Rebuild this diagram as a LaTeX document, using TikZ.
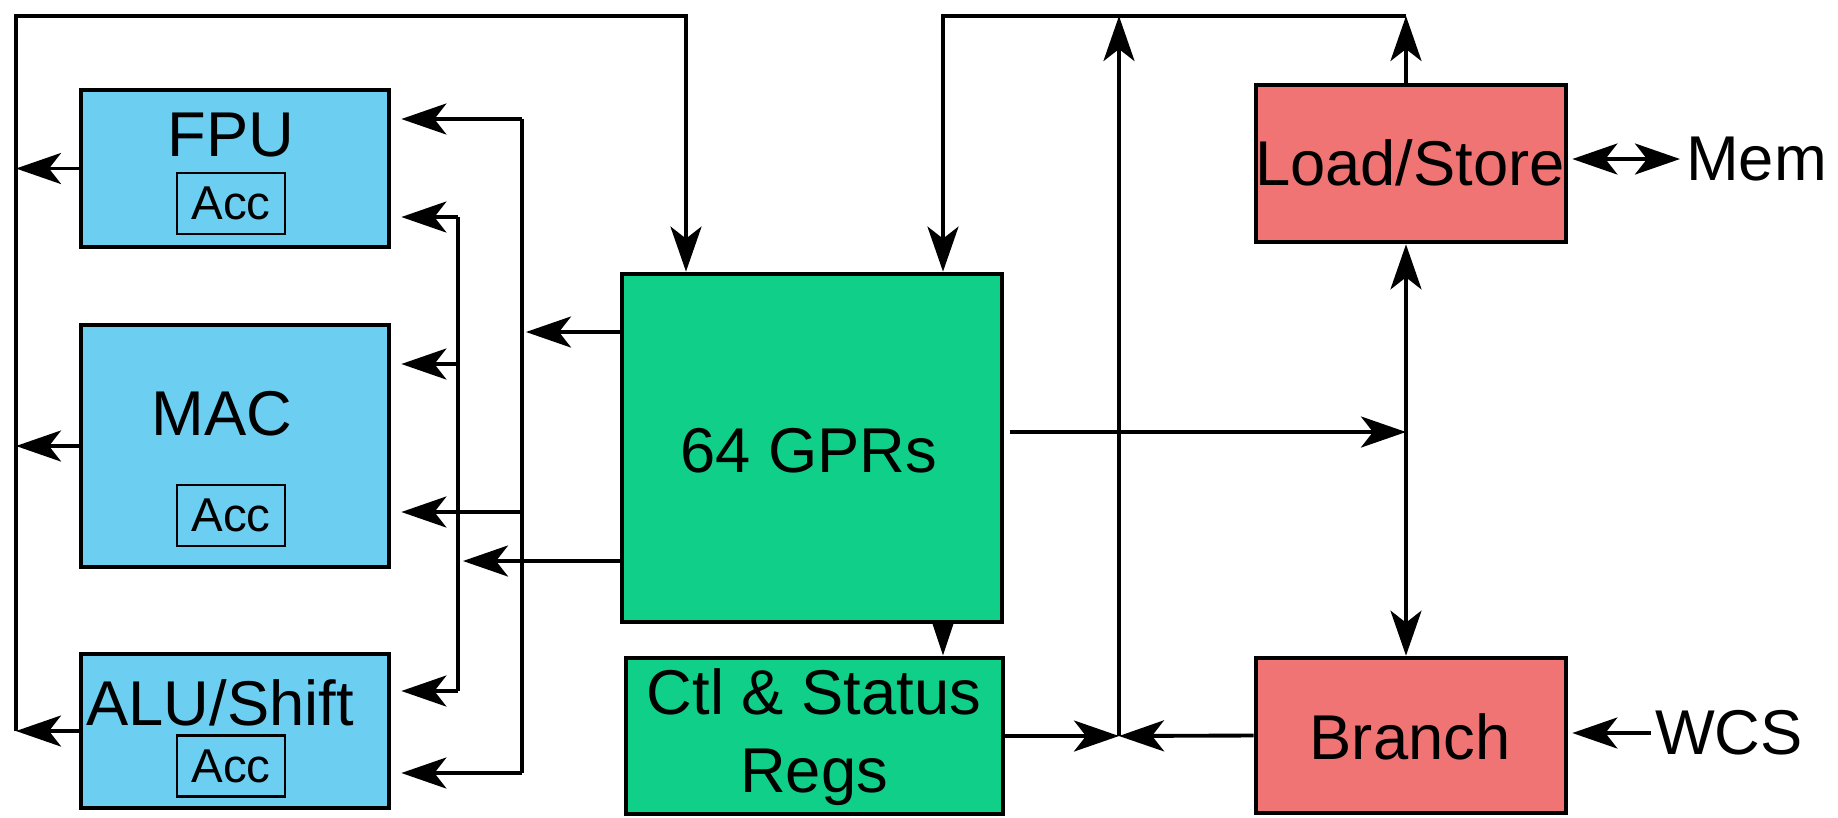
\documentclass[tikz,border=0pt]{standalone}
\usepackage{fontspec}
\setmainfont{Liberation Sans}
\usetikzlibrary{arrows.meta,calc}
\definecolor{unitblue}{RGB}{108,207,241}
\definecolor{reggreen}{RGB}{16,207,137}
\definecolor{lsred}{RGB}{239,116,115}
\tikzset{
  arr/.tip={Stealth[length=4.5mm,width=3.1mm,inset=1.2mm]},
  box/.style={draw=black, line width=1.3pt, inner sep=0pt},
  unit/.style={box, fill=unitblue, minimum width=3.08cm},
  lbl/.style={inner sep=1pt, font=\fontsize{18}{22.4}\selectfont, align=center},
  acc/.style={draw=black, line width=0.6pt, minimum width=1.08cm, minimum height=0.61cm, inner sep=0pt, font=\fontsize{13.5}{16}\selectfont},
  bus/.style={line width=1.1pt}
}
\begin{document}
\begin{tikzpicture}[x=0.01cm,y=-0.01cm]
\useasboundingbox (0,0) rectangle (1838,817);
% execution units
\node[unit, minimum height=1.57cm] (fpu) at (235,168.5) {};
\node[lbl] (fpulbl) at (231,135) {FPU};
\node[acc] (fpuacc) at (231,203.5) {Acc};
\node[unit, minimum height=2.42cm] (mac) at (235,446) {};
\node[lbl] (maclbl) at (222,414) {MAC};
\node[acc] (macacc) at (231,515.5) {Acc};
\node[unit, minimum height=1.54cm] (alu) at (235,731) {};
\node[lbl] (alulbl) at (220,703) {ALU/Shift};
\node[acc] (aluacc) at (231,766) {Acc};
% registers
\node[box, fill=reggreen, minimum width=3.80cm, minimum height=3.48cm] (gpr) at (812,448) {};
\node[lbl] (gprlbl) at (809,451) {64 GPRs};
\node[box, fill=reggreen, minimum width=3.77cm, minimum height=1.56cm] (ctl) at (814.5,736) {};
\node[lbl] (ctllbl) at (814,737) {Ctl \& Status\\Regs};
% load/store and branch
\node[box, fill=lsred, minimum width=3.10cm, minimum height=1.57cm] (ls) at (1411,163.5) {};
\node[lbl] (lslbl) at (1410,163) {Load/Store};
\node[box, fill=lsred, minimum width=3.10cm, minimum height=1.55cm] (br) at (1411,735.5) {};
\node[lbl] (brlbl) at (1410,737) {Branch};
\node[lbl, anchor=west] (mem) at (1682,159) {Mem};
\node[lbl, anchor=west] (wcs) at (1651,733) {WCS};

% result loop on the left
\coordinate (outBL) at (16,731);
\coordinate (outTL) at (16,16);
\coordinate (outTR) at (686,16);
\draw[bus,-arr] (outBL) -- (outTL) -- (outTR) -- (outTR |- gpr.north);
\draw[bus,-arr] (fpu.west) -- (fpu.west -| outTL);
\draw[bus,-arr] (mac.west) -- (mac.west -| outTL);
\draw[bus,-arr] (alu.west) -- (alu.west -| outTL);

% operand buses
\coordinate (busAtop) at (522,119);
\coordinate (busAmid) at (522,512);
\coordinate (busAbot) at (522,773);
\coordinate (tapA) at (526,332);
\draw[bus] (busAtop) -- (busAbot);
\draw[bus,-arr] (gpr.west |- tapA) -- (tapA);
\draw[bus,-arr,shorten >=1mm] (busAtop) -- (busAtop -| fpu.east);
\draw[bus,-arr,shorten >=1mm] (busAmid) -- (busAmid -| mac.east);
\draw[bus,-arr,shorten >=1mm] (busAbot) -- (busAbot -| alu.east);
\coordinate (busBtop) at (458,217);
\coordinate (busBmid) at (458,364);
\coordinate (busBbot) at (458,691);
\coordinate (tapB) at (463,561);
\draw[bus] (busBtop) -- (busBbot);
\draw[bus,-arr] (gpr.west |- tapB) -- (tapB);
\draw[bus,-arr,shorten >=1mm] (busBtop) -- (busBtop -| fpu.east);
\draw[bus,-arr,shorten >=1mm] (busBmid) -- (busBmid -| mac.east);
\draw[bus,-arr,shorten >=1mm] (busBbot) -- (busBbot -| alu.east);

% right side
\coordinate (topL) at (943,16);
\coordinate (topR) at (1406,16);
\coordinate (junc) at (1119,736);
\coordinate (gprout) at (1010,432);
\draw[bus,-arr] (topR) -- (topL) -- (topL |- gpr.north);
\draw[bus,-arr] (topR |- ls.north) -- (topR);
\draw[bus,-arr] (junc) -- (junc |- topR);
\draw[bus,-arr] (ctl.east) -- (junc);
\draw[bus,-arr] (br.west) -- (junc);
\draw[bus,-arr] (gprout) -- (gprout -| topR);
\draw[bus,arr-arr] (topR |- ls.south) -- (topR |- br.north);
\draw[bus,-{Triangle[length=3.2mm,width=2mm]}] (topL |- gpr.south) -- (topL |- ctl.north);
\draw[bus,arr-arr,shorten <=0.4mm,shorten >=0.2mm] (ls.east |- mem.west) -- (mem.west);
\draw[bus,-arr,shorten >=0.4mm] (wcs.west) -- (wcs.west -| br.east);
\end{tikzpicture}
\end{document}
